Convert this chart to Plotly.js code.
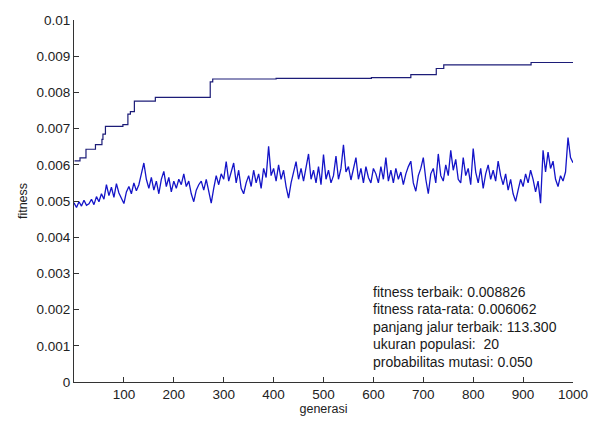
<!DOCTYPE html>
<html>
<head>
<meta charset="utf-8">
<script src="https://cdn.plot.ly/plotly-3.0.1.min.js"></script>
<style>html,body{margin:0;padding:0;background:#fff;}#chart{width:598px;height:421px;}</style>
</head>
<body>
<div id="chart"></div>
<script>
// Best fitness (step function): generation where each level starts, and its value
const bestGen = [1, 12, 24, 43, 56, 58, 63, 98, 108, 113, 121, 163, 273, 278, 405, 596, 675, 726, 741, 916, 1000];
const bestFit = [0.00611, 0.00619, 0.00643, 0.00656, 0.00670, 0.00685, 0.00706, 0.00711, 0.00740, 0.00747, 0.00776, 0.00786, 0.00829, 0.00837, 0.00839, 0.00841, 0.00849, 0.00866, 0.00876, 0.008826, 0.008826];

// Average fitness, read every 5 generations starting at generation 0
const avgGenStart = 0;
const avgGenStep = 5;
const avgFit = [
 0.00495,0.00482,0.00498,0.00486,0.00502,0.00488,0.00492,0.00505,0.00490,
 0.00512,0.00498,0.00520,0.00505,0.00545,
 0.00515,0.00538,0.00510,0.00548,0.00522,
 0.00505,0.00493,0.00525,
 0.00540,0.00520,0.00550,0.00528,0.00545,
 0.00575,0.00605,0.00560,
 0.00535,0.00565,0.00530,
 0.00555,0.00520,0.00560,0.00582,0.00540,0.00565,0.00525,0.00555,
 0.00535,0.00560,0.00545,0.00575,0.00540,0.00555,
 0.00520,0.00498,0.00530,
 0.00545,0.00555,0.00530,0.00560,
 0.00525,0.00494,0.00535,
 0.00570,0.00545,0.00575,0.00560,
 0.00609,
 0.00555,0.00580,0.00605,0.00550,0.00585,
 0.00535,0.00520,0.00550,
 0.00570,0.00540,0.00585,0.00550,0.00575,0.00535,0.00590,
 0.00565,0.00651,0.00570,0.00590,
 0.00555,0.00600,0.00560,0.00585,
 0.00540,0.00508,0.00550,
 0.00580,0.00609,0.00560,0.00590,0.00555,0.00595,
 0.00630,0.00560,0.00585,0.00550,0.00595,0.00545,0.00628,
 0.00560,0.00585,0.00550,0.00570,
 0.00624,0.00560,0.00590,0.00655,
 0.00580,0.00595,0.00558,0.00585,
 0.00620,0.00560,0.00590,0.00550,0.00595,0.00565,0.00550,0.00590,
 0.00575,0.00550,0.00595,0.00560,0.00620,
 0.00555,0.00585,0.00550,0.00590,0.00560,0.00580,0.00545,0.00575,
 0.00595,0.00610,0.00550,0.00527,0.00570,0.00590,0.00620,0.00560,
 0.00520,0.00575,0.00590,0.00550,0.00630,0.00570,
 0.00555,0.00600,0.00570,0.00640,0.00585,0.00615,
 0.00560,0.00550,0.00620,0.00570,0.00590,0.00545,0.00645,
 0.00580,0.00550,0.00590,0.00535,
 0.00575,0.00600,0.00560,0.00585,0.00555,0.00610,0.00570,
 0.00545,0.00575,0.00530,0.00560,
 0.00520,0.00499,0.00530,
 0.00560,0.00540,0.00575,0.00550,0.00585,
 0.00560,0.00525,0.00555,
 0.00494,
 0.00640,0.00580,0.00635,0.00590,0.00610,
 0.00560,0.00540,0.00570,
 0.00555,0.00580,0.00675,0.00620,0.00606
];

const xTicks = [100, 200, 300, 400, 500, 600, 700, 800, 900, 1000];
const yTicks = [0, 0.001, 0.002, 0.003, 0.004, 0.005, 0.006, 0.007, 0.008, 0.009, 0.01];
const yTickText = ['0', '0.001', '0.002', '0.003', '0.004', '0.005', '0.006', '0.007', '0.008', '0.009', '0.01'];

const infoLines = [
  'fitness terbaik: 0.008826',
  'fitness rata-rata: 0.006062',
  'panjang jalur terbaik: 113.300',
  'ukuran populasi:  20',
  'probabilitas mutasi: 0.050'
];

const font = 'Liberation Sans, Arial, sans-serif';

const traces = [
  {
    x: bestGen, y: bestFit, type: 'scatter', mode: 'lines',
    line: {shape: 'hv', color: '#1c1c78', width: 1.2},
    hoverinfo: 'skip'
  },
  {
    y: avgFit, x0: avgGenStart, dx: avgGenStep, type: 'scatter', mode: 'lines',
    line: {color: '#1414c8', width: 1.3},
    hoverinfo: 'skip'
  }
];

const annotations = infoLines.map((t, i) => ({
  text: t, xref: 'paper', yref: 'paper',
  x: 0.5946, y: 0.2494 - i * 0.0486,
  xanchor: 'left', yanchor: 'middle', showarrow: false,
  font: {family: font, size: 14, color: '#1a1a1a'}
}));

const layout = {
  width: 598, height: 421,
  margin: {l: 74, r: 25, t: 20, b: 39, pad: 0},
  paper_bgcolor: '#ffffff', plot_bgcolor: '#ffffff',
  showlegend: false,
  font: {family: font, size: 12.5, color: '#222'},
  xaxis: {
    range: [0, 1000], tickvals: xTicks, ticktext: xTicks.map(String),
    ticks: 'inside', ticklen: 5, tickcolor: '#333', tickwidth: 1,
    showline: true, linecolor: '#333', linewidth: 1, mirror: false,
    showgrid: false, zeroline: false,
    title: {text: 'generasi', font: {family: font, size: 12.5, color: '#222'}, standoff: 2},
    tickfont: {family: font, size: 13.5, color: '#222'}
  },
  yaxis: {
    range: [0, 0.01], tickvals: yTicks, ticktext: yTickText,
    ticks: 'inside', ticklen: 5, tickcolor: '#333', tickwidth: 1,
    showline: true, linecolor: '#333', linewidth: 1, mirror: false,
    showgrid: false, zeroline: false,
    title: {text: 'fitness', font: {family: font, size: 12.5, color: '#222'}, standoff: 6},
    tickfont: {family: font, size: 13.5, color: '#222'}
  },
  annotations: annotations
};

Plotly.newPlot('chart', traces, layout, {staticPlot: true, displayModeBar: false});
</script>
</body>
</html>
